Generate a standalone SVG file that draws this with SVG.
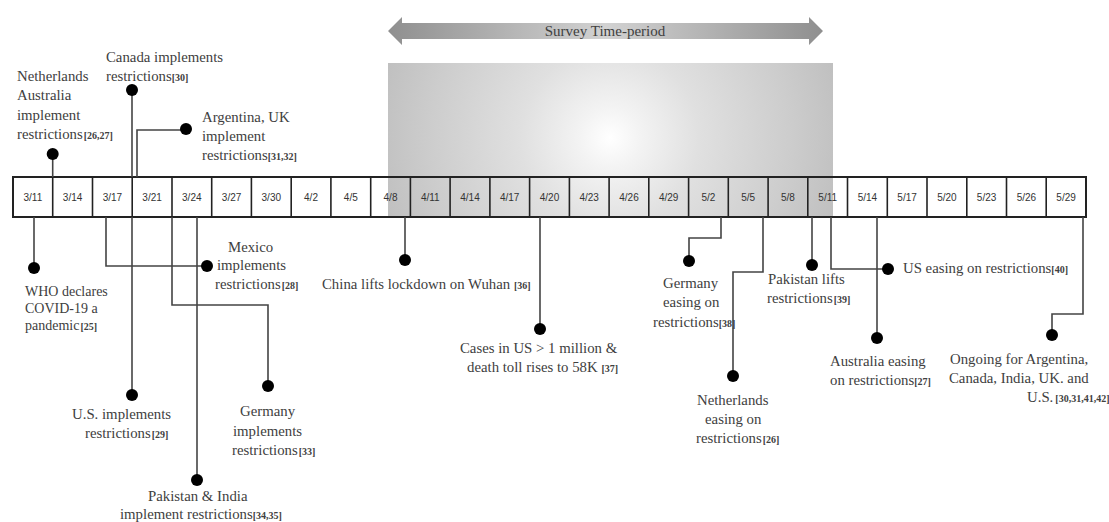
<svg xmlns="http://www.w3.org/2000/svg" width="1109" height="522" viewBox="0 0 1109 522">
<defs>
<radialGradient id="bg" gradientUnits="userSpaceOnUse" cx="610" cy="138" r="255">
<stop offset="0" stop-color="#ffffff"/>
<stop offset="0.12" stop-color="#f3f3f3"/>
<stop offset="0.35" stop-color="#e0e0e0"/>
<stop offset="0.7" stop-color="#cdcdcd"/>
<stop offset="1" stop-color="#bbbbbb"/>
</radialGradient>
<linearGradient id="ag" x1="0" y1="0" x2="1" y2="0">
<stop offset="0" stop-color="#8f8f8f"/>
<stop offset="0.5" stop-color="#d2d2d2"/>
<stop offset="1" stop-color="#8f8f8f"/>
</linearGradient>
<style>
.lbl{font-family:"Liberation Serif","Times New Roman",serif;font-size:14.8px;fill:#404040}
.ref{font-weight:bold;font-size:10px}
.cell{font-family:"Liberation Sans",Arial,sans-serif;font-size:10px;fill:#333;text-anchor:middle}
.sep{stroke:#222;stroke-width:1.6}
.conn{fill:none;stroke:#444;stroke-width:1.6}
.dot{fill:#000}
</style>
</defs>

<g id="survey-period">
<rect x="388" y="63" width="445" height="154" fill="url(#bg)"/>
<polygon points="388,31 402,17 402,23 809,23 809,17 823,31 809,45 809,39 402,39 402,45" fill="url(#ag)"/>
<text class="lbl" x="605" y="36" text-anchor="middle" style="font-size:15px">Survey Time-period</text>
</g>

<g id="timeline">
<rect x="13" y="177" width="1073" height="40" fill="none" stroke="#222" stroke-width="2"/>
<g class="sep">
<line x1="52.7" y1="177" x2="52.7" y2="217"/>
<line x1="92.5" y1="177" x2="92.5" y2="217"/>
<line x1="132.2" y1="177" x2="132.2" y2="217"/>
<line x1="172" y1="177" x2="172" y2="217"/>
<line x1="211.7" y1="177" x2="211.7" y2="217"/>
<line x1="251.4" y1="177" x2="251.4" y2="217"/>
<line x1="291.2" y1="177" x2="291.2" y2="217"/>
<line x1="330.9" y1="177" x2="330.9" y2="217"/>
<line x1="370.7" y1="177" x2="370.7" y2="217"/>
<line x1="410.4" y1="177" x2="410.4" y2="217"/>
<line x1="450.1" y1="177" x2="450.1" y2="217"/>
<line x1="489.9" y1="177" x2="489.9" y2="217"/>
<line x1="529.6" y1="177" x2="529.6" y2="217"/>
<line x1="569.4" y1="177" x2="569.4" y2="217"/>
<line x1="609.1" y1="177" x2="609.1" y2="217"/>
<line x1="648.8" y1="177" x2="648.8" y2="217"/>
<line x1="688.6" y1="177" x2="688.6" y2="217"/>
<line x1="728.3" y1="177" x2="728.3" y2="217"/>
<line x1="768.1" y1="177" x2="768.1" y2="217"/>
<line x1="807.8" y1="177" x2="807.8" y2="217"/>
<line x1="847.5" y1="177" x2="847.5" y2="217"/>
<line x1="887.3" y1="177" x2="887.3" y2="217"/>
<line x1="927" y1="177" x2="927" y2="217"/>
<line x1="966.8" y1="177" x2="966.8" y2="217"/>
<line x1="1006.5" y1="177" x2="1006.5" y2="217"/>
<line x1="1046.2" y1="177" x2="1046.2" y2="217"/>
</g>
<text class="cell" x="32.9" y="201">3/11</text>
<text class="cell" x="72.6" y="201">3/14</text>
<text class="cell" x="112.4" y="201">3/17</text>
<text class="cell" x="152.1" y="201">3/21</text>
<text class="cell" x="191.8" y="201">3/24</text>
<text class="cell" x="231.6" y="201">3/27</text>
<text class="cell" x="271.3" y="201">3/30</text>
<text class="cell" x="311" y="201">4/2</text>
<text class="cell" x="350.8" y="201">4/5</text>
<text class="cell" x="390.5" y="201">4/8</text>
<text class="cell" x="430.3" y="201">4/11</text>
<text class="cell" x="470" y="201">4/14</text>
<text class="cell" x="509.7" y="201">4/17</text>
<text class="cell" x="549.5" y="201">4/20</text>
<text class="cell" x="589.2" y="201">4/23</text>
<text class="cell" x="629" y="201">4/26</text>
<text class="cell" x="668.7" y="201">4/29</text>
<text class="cell" x="708.4" y="201">5/2</text>
<text class="cell" x="748.2" y="201">5/5</text>
<text class="cell" x="787.9" y="201">5/8</text>
<text class="cell" x="827.7" y="201">5/11</text>
<text class="cell" x="867.4" y="201">5/14</text>
<text class="cell" x="907.1" y="201">5/17</text>
<text class="cell" x="946.9" y="201">5/20</text>
<text class="cell" x="986.6" y="201">5/23</text>
<text class="cell" x="1026.4" y="201">5/26</text>
<text class="cell" x="1066.1" y="201">5/29</text>
</g>

<g id="connectors">
<polyline class="conn" points="52.7,154 52.7,177"/>
<polyline class="conn" points="132,90 132,177"/>
<polyline class="conn" points="186,130 137,130 137,177"/>
<polyline class="conn" points="34,217 34,268"/>
<polyline class="conn" points="106,217 106,266 207,266"/>
<polyline class="conn" points="132,217 132,395"/>
<polyline class="conn" points="172,217 172,305 268,305 268,386"/>
<polyline class="conn" points="197,217 197,480"/>
<polyline class="conn" points="405,217 405,260"/>
<polyline class="conn" points="540,217 540,329"/>
<polyline class="conn" points="721,217 721,238 689,238 689,261"/>
<polyline class="conn" points="763,217 763,272 733,272 733,376"/>
<polyline class="conn" points="812,217 812,265"/>
<polyline class="conn" points="831,217 831,269 888,269"/>
<polyline class="conn" points="877,217 877,338"/>
<polyline class="conn" points="1083,217 1083,314 1052,314 1052,335"/>
</g>

<g id="n-netherlands-australia">
<circle class="dot" cx="52.7" cy="154" r="6"/>
<text class="lbl" x="17" y="81">Netherlands</text>
<text class="lbl" x="17" y="100">Australia</text>
<text class="lbl" x="17" y="120">implement</text>
<text class="lbl" x="17" y="139">restrictions<tspan class="ref" dx="1">[26,27]</tspan></text>
</g>
<g id="n-canada">
<circle class="dot" cx="132" cy="90" r="6"/>
<text class="lbl" x="106" y="62">Canada implements</text>
<text class="lbl" x="106" y="81">restrictions<tspan class="ref">[30]</tspan></text>
</g>
<g id="n-argentina-uk">
<circle class="dot" cx="186" cy="129" r="6"/>
<text class="lbl" x="202" y="122">Argentina, UK</text>
<text class="lbl" x="202" y="141">implement</text>
<text class="lbl" x="202" y="160">restrictions<tspan class="ref">[31,32]</tspan></text>
</g>
<g id="n-who">
<circle class="dot" cx="34" cy="268" r="6"/>
<text class="lbl" x="25" y="296" style="font-size:14px">WHO declares</text>
<text class="lbl" x="25" y="313" style="font-size:14px">COVID-19 a</text>
<text class="lbl" x="25" y="330" style="font-size:14px">pandemic<tspan class="ref" dx="1">[25]</tspan></text>
</g>
<g id="n-mexico">
<circle class="dot" cx="207" cy="266" r="6"/>
<text class="lbl" x="228" y="252">Mexico</text>
<text class="lbl" x="217" y="270">implements</text>
<text class="lbl" x="215" y="289">restrictions<tspan class="ref" dx="1">[28]</tspan></text>
</g>
<g id="n-us-implements">
<circle class="dot" cx="132" cy="395" r="6"/>
<text class="lbl" x="72" y="419">U.S. implements</text>
<text class="lbl" x="85" y="438">restrictions<tspan class="ref" dx="1">[29]</tspan></text>
</g>
<g id="n-germany-implements">
<circle class="dot" cx="268" cy="386" r="6"/>
<text class="lbl" x="240" y="416">Germany</text>
<text class="lbl" x="233" y="436">implements</text>
<text class="lbl" x="232" y="455">restrictions<tspan class="ref" dx="1">[33]</tspan></text>
</g>
<g id="n-pakistan-india">
<circle class="dot" cx="197" cy="480" r="6"/>
<text class="lbl" x="148" y="501">Pakistan &amp; India</text>
<text class="lbl" x="120" y="519">implement restrictions<tspan class="ref">[34,35]</tspan></text>
</g>
<g id="n-china">
<circle class="dot" cx="405" cy="260" r="6"/>
<text class="lbl" x="322" y="289">China lifts lockdown on Wuhan <tspan class="ref">[36]</tspan></text>
</g>
<g id="n-cases-us">
<circle class="dot" cx="540" cy="329" r="6"/>
<text class="lbl" x="460" y="353">Cases in US &gt; 1 million &amp;</text>
<text class="lbl" x="467" y="372">death toll rises to 58K <tspan class="ref">[37]</tspan></text>
</g>
<g id="n-germany-easing">
<circle class="dot" cx="689" cy="261" r="6"/>
<text class="lbl" x="663" y="288">Germany</text>
<text class="lbl" x="663" y="307">easing on</text>
<text class="lbl" x="653" y="327">restrictions<tspan class="ref">[38]</tspan></text>
</g>
<g id="n-netherlands-easing">
<circle class="dot" cx="733" cy="376" r="6"/>
<text class="lbl" x="697" y="405">Netherlands</text>
<text class="lbl" x="705" y="424">easing on</text>
<text class="lbl" x="696" y="443">restrictions<tspan class="ref" dx="1">[26]</tspan></text>
</g>
<g id="n-pakistan-lifts">
<circle class="dot" cx="812" cy="265" r="6"/>
<text class="lbl" x="768" y="284">Pakistan lifts</text>
<text class="lbl" x="767" y="303">restrictions<tspan class="ref" dx="1">[39]</tspan></text>
</g>
<g id="n-us-easing">
<circle class="dot" cx="888" cy="269" r="6"/>
<text class="lbl" x="903" y="273">US easing on restrictions<tspan class="ref">[40]</tspan></text>
</g>
<g id="n-australia-easing">
<circle class="dot" cx="877" cy="338" r="6"/>
<text class="lbl" x="830" y="366">Australia easing</text>
<text class="lbl" x="830" y="385">on restrictions<tspan class="ref">[27]</tspan></text>
</g>
<g id="n-ongoing">
<circle class="dot" cx="1052" cy="335" r="6"/>
<text class="lbl" x="950" y="364">Ongoing for Argentina,</text>
<text class="lbl" x="949" y="383">Canada, India, UK. and</text>
<text class="lbl" x="1027" y="402">U.S.<tspan class="ref" dx="2">[30,31,41,42]</tspan></text>
</g>
</svg>
